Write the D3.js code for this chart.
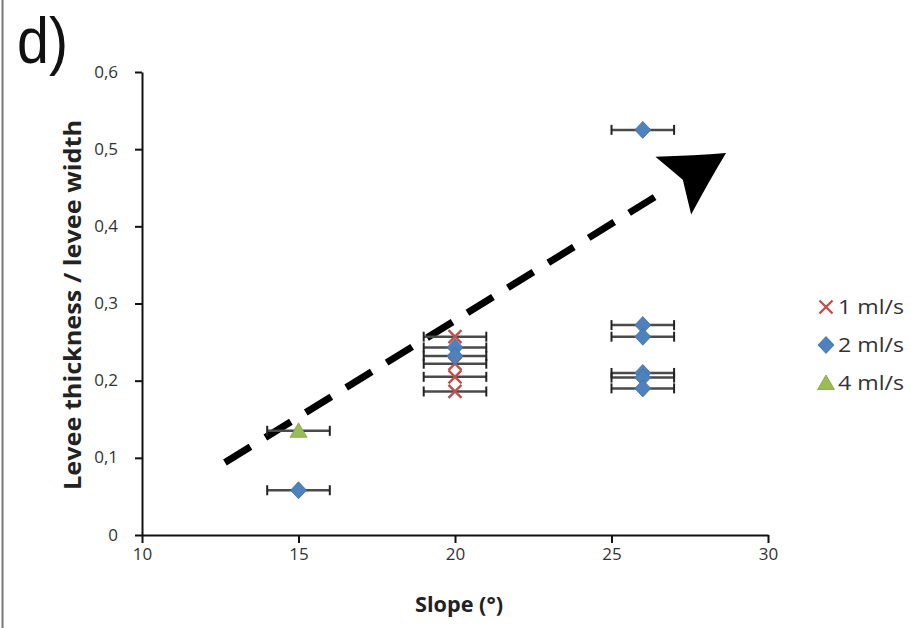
<!DOCTYPE html>
<html>
<head>
<meta charset="utf-8">
<script src="https://cdn.jsdelivr.net/npm/d3@7"></script>
<style>
  html, body { margin: 0; padding: 0; background: #fff; }
  svg { display: block; }
</style>
</head>
<body>
<svg id="chart" width="911" height="628"></svg>
<script>
// slope (deg) and levee thickness / levee width, per flow rate
const seriesNames = ['1 ml/s', '2 ml/s', '4 ml/s'];
const slope1 = [20, 20, 20, 20];
const ratio1 = [0.257, 0.222, 0.205, 0.186];
const slope2 = [15, 20, 20, 26, 26, 26, 26, 26, 26];
const ratio2 = [0.058, 0.243, 0.232, 0.525, 0.272, 0.257, 0.210, 0.204, 0.190];
const slope4 = [15];
const ratio4 = [0.135];
const slopeErr = 1;

const xTicks = [10, 15, 20, 25, 30];
const yTicks = [0, 0.1, 0.2, 0.3, 0.4, 0.5, 0.6];

// trend arrow, in data units
const arrowStart = [12.65, 0.094];
const arrowEnd = [28.66, 0.495];

const svg = d3.select('#chart');
const font = '"Open Sans", "Liberation Sans", sans-serif';

const x = d3.scaleLinear().domain([10, 30]).range([142, 768]);
const y = d3.scaleLinear().domain([0, 0.6]).range([535, 72]);

const colors = ['#c0504d', '#4f81bd', '#9bbb59'];

// frame line on the left side of the panel
svg.append('line')
  .attr('x1', 2.5).attr('x2', 2.5).attr('y1', 0).attr('y2', 628)
  .attr('stroke', '#777').attr('stroke-width', 2);

// panel label
svg.append('text')
  .attr('x', 17).attr('y', 63)
  .attr('font-family', '"Liberation Sans", Arial, sans-serif')
  .attr('font-size', 64)
  .attr('textLength', 51).attr('lengthAdjust', 'spacingAndGlyphs')
  .attr('fill', '#111')
  .text('d)');

// axes
const xAxis = d3.axisBottom(x).tickValues(xTicks).tickSize(8).tickSizeOuter(0);
const yAxis = d3.axisLeft(y).tickValues(yTicks).tickSize(7).tickSizeOuter(0)
  .tickFormat(d => d3.format('.1f')(d).replace('.', ',').replace(/^0,0$/, '0'));

const gx = svg.append('g').attr('transform', `translate(0,${y(0)})`).call(xAxis);
const gy = svg.append('g').attr('transform', `translate(${x(10)},0)`).call(yAxis);

[gx, gy].forEach(g => {
  g.attr('font-size', null);
  g.select('.domain').attr('stroke', '#111').attr('stroke-width', 2);
  g.selectAll('.tick line').attr('stroke', '#111').attr('stroke-width', 2);
  g.selectAll('.tick text')
    .attr('font-family', font)
    .style('font-size', '17px')
    .attr('fill', '#333');
});
gx.selectAll('.tick text').attr('dy', '0.8em');
gy.selectAll('.tick text').attr('x', -24).attr('dy', '0.3em');

// axis titles
svg.append('text')
  .attr('x', 459).attr('y', 612)
  .attr('text-anchor', 'middle')
  .attr('font-family', font).attr('font-weight', 'bold').attr('font-size', 21)
  .attr('textLength', 88).attr('lengthAdjust', 'spacingAndGlyphs')
  .attr('fill', '#222')
  .text('Slope (°)');

svg.append('text')
  .attr('transform', `translate(81,305) rotate(-90)`)
  .attr('text-anchor', 'middle')
  .attr('font-family', font).attr('font-weight', 'bold').attr('font-size', 24)
  .attr('textLength', 370).attr('lengthAdjust', 'spacingAndGlyphs')
  .attr('fill', '#222')
  .text('Levee thickness / levee width');

// dashed trend arrow
const ax0 = x(arrowStart[0]), ay0 = y(arrowStart[1]);
const ax1 = x(arrowEnd[0]), ay1 = y(arrowEnd[1]);
const ang = Math.atan2(ay1 - ay0, ax1 - ax0);
const headLen = 62;
const headHalf = 34;
const lineEndX = ax1 - Math.cos(ang) * (headLen + 20);
const lineEndY = ay1 - Math.sin(ang) * (headLen + 20);

svg.append('line')
  .attr('x1', ax0).attr('y1', ay0).attr('x2', lineEndX).attr('y2', lineEndY)
  .attr('stroke', '#000').attr('stroke-width', 7)
  .attr('stroke-dasharray', '30,17.5');

// arrow head (stealth shape with slightly concave sides)
const rot = (px, py) => [
  ax1 + px * Math.cos(ang) - py * Math.sin(ang),
  ay1 + px * Math.sin(ang) + py * Math.cos(ang)
];
const tip = rot(0, 0);
const b1 = rot(-headLen, -headHalf);
const b2 = rot(-headLen, headHalf);
const notch = rot(-headLen * 0.82, 0);
const c1 = rot(-headLen * 0.45, -headHalf * 0.42);
const c2 = rot(-headLen * 0.45, headHalf * 0.42);
svg.append('path')
  .attr('d', `M${tip}Q${c1} ${b1}L${notch}L${b2}Q${c2} ${tip}Z`)
  .attr('fill', '#000');

// series
const series = [
  { name: seriesNames[0], xs: slope1, ys: ratio1, color: colors[0], shape: 'x' },
  { name: seriesNames[1], xs: slope2, ys: ratio2, color: colors[1], shape: 'diamond' },
  { name: seriesNames[2], xs: slope4, ys: ratio4, color: colors[2], shape: 'triangle' }
];

function drawMarker(g, shape, color, cx, cy) {
  if (shape === 'x') {
    const s = 6.5;
    g.append('path')
      .attr('d', `M${cx - s},${cy - s}L${cx + s},${cy + s}M${cx - s},${cy + s}L${cx + s},${cy - s}`)
      .attr('stroke', color).attr('stroke-width', 2.4).attr('fill', 'none');
  } else if (shape === 'diamond') {
    g.append('path')
      .attr('d', `M${cx},${cy - 8.5}L${cx + 8},${cy}L${cx},${cy + 8.5}L${cx - 8},${cy}Z`)
      .attr('fill', color).attr('stroke', '#3f6fa8').attr('stroke-width', 0.8);
  } else {
    g.append('path')
      .attr('d', `M${cx},${cy - 8}L${cx + 8.5},${cy + 6.5}L${cx - 8.5},${cy + 6.5}Z`)
      .attr('fill', color).attr('stroke', '#85a347').attr('stroke-width', 0.8);
  }
}

const plot = svg.append('g');
series.forEach(s => {
  const g = plot.append('g');
  s.xs.forEach((sx, i) => {
    const cy = y(s.ys[i]);
    const xl = x(sx - slopeErr), xr = x(sx + slopeErr);
    g.append('line')
      .attr('x1', xl).attr('x2', xr).attr('y1', cy).attr('y2', cy)
      .attr('stroke', '#4a4a4a').attr('stroke-width', 2.5);
    [xl, xr].forEach(xe => {
      g.append('line')
        .attr('x1', xe).attr('x2', xe).attr('y1', cy - 5).attr('y2', cy + 5)
        .attr('stroke', '#222').attr('stroke-width', 2);
    });
  });
  s.xs.forEach((sx, i) => drawMarker(g, s.shape, s.color, x(sx), y(s.ys[i])));
});

// legend
const legend = svg.append('g').attr('transform', 'translate(826,307)');
series.forEach((s, i) => {
  const g = legend.append('g').attr('transform', `translate(0,${i * 38})`);
  drawMarker(g, s.shape, s.color, 0, 0);
  g.append('text')
    .attr('x', 12).attr('y', 7)
    .attr('font-family', font).attr('font-size', 20)
    .attr('textLength', 66).attr('lengthAdjust', 'spacingAndGlyphs')
    .attr('fill', '#333')
    .text(s.name);
});
</script>
</body>
</html>
